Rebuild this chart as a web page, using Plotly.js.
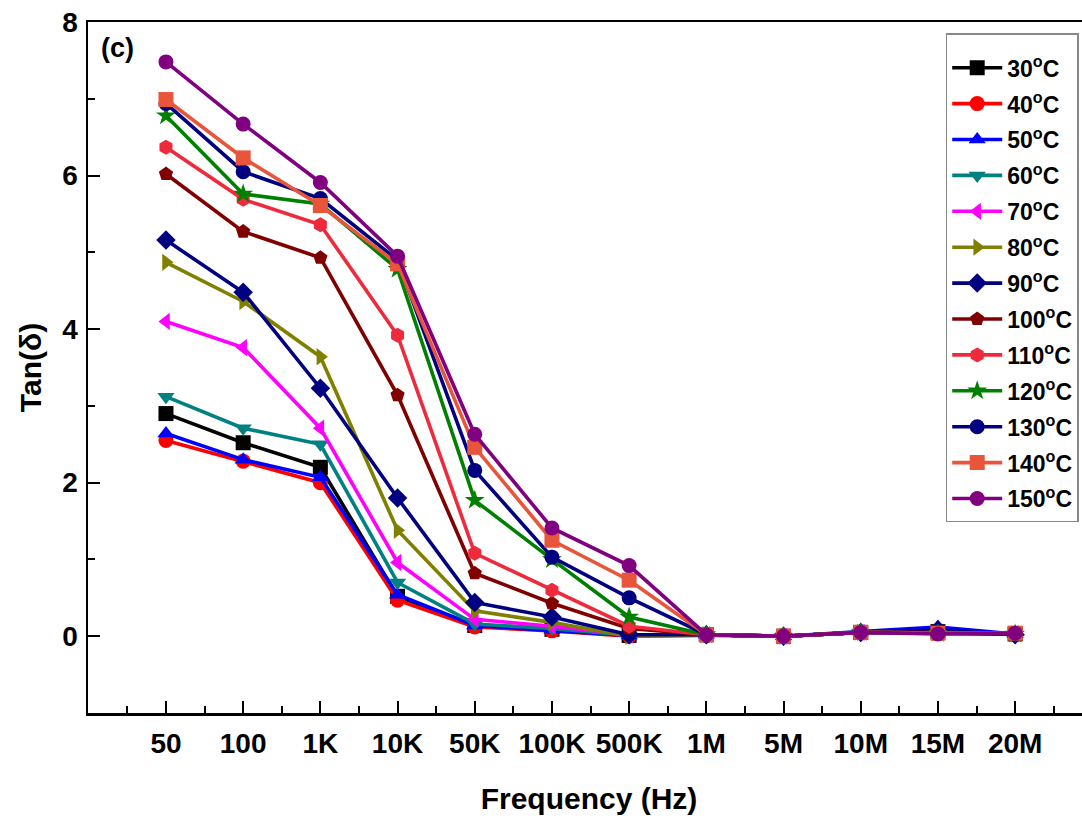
<!DOCTYPE html>
<html>
<head>
<meta charset="utf-8">
<script src="https://cdn.plot.ly/plotly-3.0.1.min.js"></script>
<style>
  html, body { margin: 0; padding: 0; overflow: hidden; background: #fff; }
  #chart { width: 1100px; height: 818px; }
</style>
</head>
<body>
<div id="chart"></div>
<script>
// Frequency categories (Hz)
const freqLabels = ["50", "100", "1K", "10K", "50K", "100K", "500K", "1M", "5M", "10M", "15M", "20M"];

// Tan(delta) values per temperature
const t30  = [2.90, 2.52, 2.20, 0.52, 0.14, 0.09, 0.01, 0.02, 0.00, 0.05, 0.06, 0.03];
const t40  = [2.55, 2.28, 2.00, 0.47, 0.12, 0.07, 0.00, 0.01, 0.00, 0.05, 0.05, 0.03];
const t50  = [2.64, 2.30, 2.07, 0.54, 0.14, 0.08, 0.01, 0.02, 0.00, 0.06, 0.12, 0.03];
const t60  = [3.12, 2.71, 2.50, 0.70, 0.16, 0.10, 0.01, 0.02, 0.00, 0.05, 0.06, 0.02];
const t70  = [4.10, 3.76, 2.71, 0.96, 0.22, 0.13, 0.02, 0.02, 0.00, 0.05, 0.06, 0.03];
const t80  = [4.87, 4.36, 3.64, 1.38, 0.33, 0.18, 0.00, 0.02, 0.00, 0.05, 0.06, 0.03];
const t90  = [5.16, 4.48, 3.23, 1.80, 0.44, 0.25, 0.02, 0.02, 0.00, 0.05, 0.08, 0.02];
const t100 = [6.02, 5.27, 4.93, 3.14, 0.82, 0.43, 0.10, 0.02, 0.00, 0.05, 0.05, 0.03];
const t110 = [6.37, 5.69, 5.36, 3.92, 1.08, 0.60, 0.13, 0.02, 0.00, 0.05, 0.04, 0.03];
const t120 = [6.78, 5.76, 5.63, 4.78, 1.77, 1.00, 0.25, 0.02, 0.00, 0.05, 0.04, 0.03];
const t130 = [6.94, 6.05, 5.70, 4.90, 2.16, 1.03, 0.50, 0.02, 0.00, 0.05, 0.04, 0.03];
const t140 = [6.99, 6.23, 5.61, 4.85, 2.46, 1.25, 0.73, 0.02, 0.00, 0.05, 0.04, 0.04];
const t150 = [7.48, 6.67, 5.91, 4.95, 2.63, 1.41, 0.92, 0.02, 0.00, 0.05, 0.03, 0.04];

const seriesNames = ["30", "40", "50", "60", "70", "80", "90", "100", "110", "120", "130", "140", "150"];
const seriesValues = [t30, t40, t50, t60, t70, t80, t90, t100, t110, t120, t130, t140, t150];

// styles
const colors = ["#000000", "#FF0000", "#0000FF", "#008080", "#FF00FF", "#808000", "#000080",
                "#800000", "#EE2A3C", "#008000", "#000080", "#E8553A", "#800080"];
const symbols = ["square", "circle", "triangle-up", "triangle-down", "triangle-left", "triangle-right",
                 "diamond", "pentagon", "hexagon", "star", "circle", "square", "circle"];

const xIdx = freqLabels.map((_, i) => i);
const FONT = "Liberation Sans, Arial, sans-serif";

const traces = seriesValues.map((vals, k) => ({
  x: xIdx,
  y: vals,
  type: "scatter",
  mode: "lines+markers",
  name: seriesNames[k] + "<sup>o</sup>C",
  legendgroup: "g" + k,
  line: { color: colors[k], width: 3.6 },
  marker: { color: colors[k], symbol: symbols[k], size: 15, line: { width: 0 } }
}));

const layout = {
  width: 1100,
  height: 818,
  margin: { l: 88, r: 10, t: 22, b: 105 },
  paper_bgcolor: "#ffffff",
  plot_bgcolor: "#ffffff",
  font: { family: FONT, color: "#000", weight: "bold" },
  showlegend: true,
  legend: {
    x: 0.856, y: 0.984, xanchor: "left", yanchor: "top",
    bordercolor: "#888888", borderwidth: 1.5,
    bgcolor: "#ffffff",
    font: { family: FONT, size: 23, color: "#000", weight: "bold" },
    title: { text: " ", font: { family: FONT, size: 9 } },
    itemwidth: 50,
    tracegroupgap: 3,
    traceorder: "grouped"
  },
  xaxis: {
    range: [-1.01, 11.97],
    tickmode: "array",
    tickvals: xIdx,
    ticktext: freqLabels,
    ticks: "inside",
    ticklen: 12,
    tickwidth: 2,
    tickcolor: "#000",
    ticklabelstandoff: 4,
    minor: { ticks: "inside", tick0: 0.5, dtick: 1, ticklen: 7, tickwidth: 2, tickcolor: "#000" },
    showline: true, linecolor: "#000", linewidth: 2.5, mirror: true,
    showgrid: false, zeroline: false,
    tickfont: { family: FONT, size: 28, color: "#000", weight: "bold" },
    title: { text: "Frequency (Hz)", font: { family: FONT, size: 30, color: "#000", weight: "bold" }, standoff: 30 }
  },
  yaxis: {
    range: [-1, 8],
    tickmode: "array",
    tickvals: [0, 2, 4, 6, 8],
    ticks: "inside",
    ticklen: 12,
    tickwidth: 2,
    tickcolor: "#000",
    ticklabelstandoff: 2,
    minor: { ticks: "inside", tickmode: "array", tickvals: [-1, 1, 3, 5, 7], ticklen: 7, tickwidth: 2, tickcolor: "#000" },
    showline: true, linecolor: "#000", linewidth: 2.5, mirror: true,
    showgrid: false, zeroline: false,
    tickfont: { family: FONT, size: 28, color: "#000", weight: "bold" },
    title: { text: "Tan(δ)", font: { family: FONT, size: 30, color: "#000", weight: "bold" }, standoff: 12 }
  },
  annotations: [{
    text: "(c)", xref: "paper", yref: "paper", x: 0.011, y: 0.962,
    xanchor: "left", yanchor: "middle", showarrow: false,
    font: { family: FONT, size: 27, color: "#000", weight: "bold" }
  }]
};

Plotly.newPlot("chart", traces, layout, { displayModeBar: false, staticPlot: true });
</script>
</body>
</html>
